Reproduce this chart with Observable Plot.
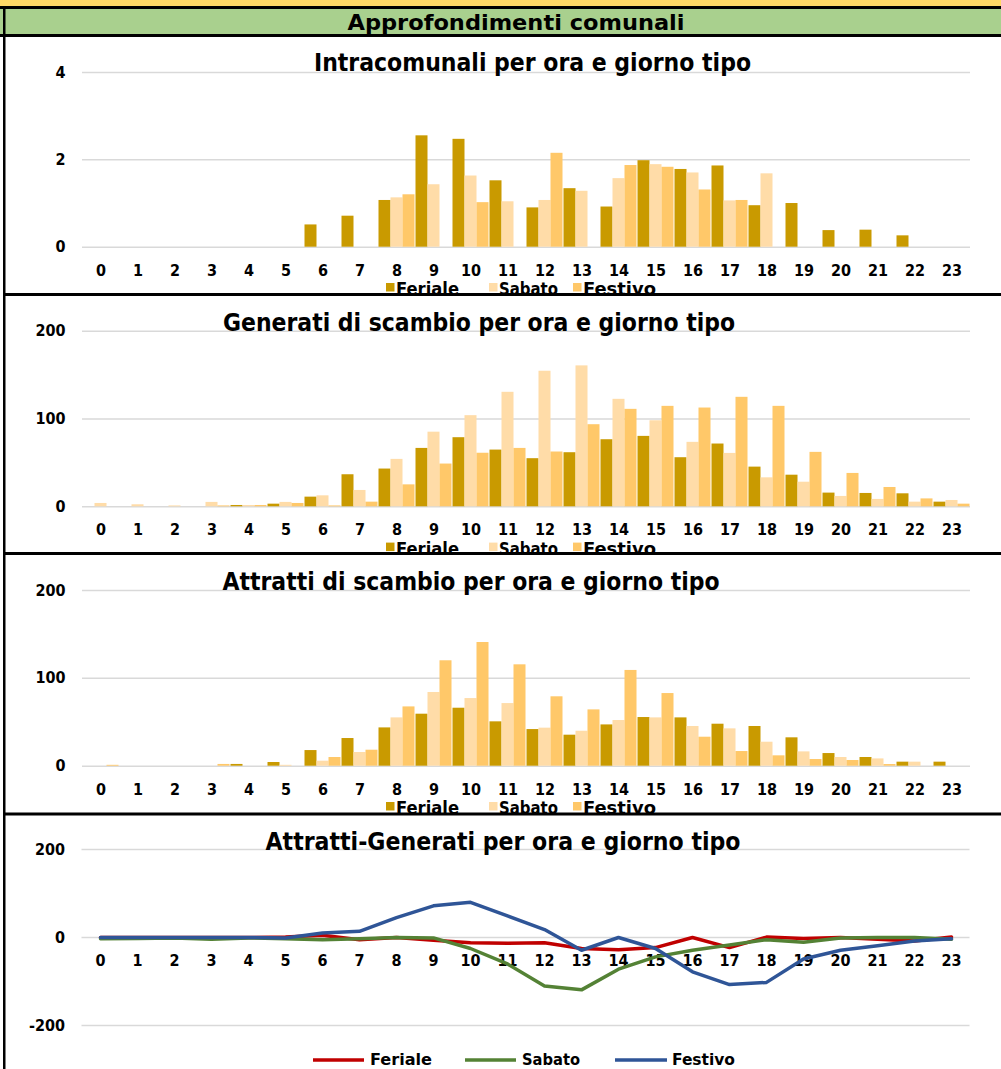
<!DOCTYPE html>
<html>
<head>
<meta charset="utf-8">
<script src="https://cdn.jsdelivr.net/npm/d3@7"></script>
<script src="https://cdn.jsdelivr.net/npm/@observablehq/plot@0.6"></script>
<style>
html, body { margin:0; padding:0; background:#fff; overflow:hidden; }
#page { position:relative; width:1001px; height:1069px; overflow:hidden; background:#fff; }
</style>
</head>
<body>
<div id="page"></div>
<script>
// ---------------- DATA ----------------
const hours = [0,1,2,3,4,5,6,7,8,9,10,11,12,13,14,15,16,17,18,19,20,21,22,23];
const seriesNames = ["Feriale","Sabato","Festivo"];

const headerTitle = "Approfondimenti comunali";
const panelTitles = [
  "Intracomunali per ora e giorno tipo",
  "Generati di scambio per ora e giorno tipo",
  "Attratti di scambio per ora e giorno tipo",
  "Attratti-Generati per ora e giorno tipo"
];

// Intracomunali
const intraFeriale = [0,0,0,0,0,0,0.51,0.71,1.07,2.55,2.47,1.52,0.90,1.34,0.92,1.98,1.78,1.86,0.95,1.00,0.38,0.39,0.26,0];
const intraSabato  = [0,0,0,0,0,0,0,0,1.13,1.43,1.63,1.04,1.07,1.28,1.57,1.89,1.70,1.06,1.68,0,0,0,0,0];
const intraFestivo = [0,0,0,0,0,0,0,0,1.20,0,1.02,0,2.15,0,1.87,1.83,1.31,1.07,0,0,0,0,0,0];
const intraTicks = [0,2,4];

// Generati di scambio
const genFeriale = [0,0,0,0,1.5,3,11,36.5,43,66.5,78.7,64.6,54.8,61.6,76.4,80.2,55.9,71.5,45.2,36,15.6,15.2,14.8,5.3];
const genSabato  = [3.8,2.3,1,5,1.5,5,12.5,18.6,54,85,103.8,130.4,154.4,160.5,122.4,98,73.4,60.8,33,28,11.8,8.4,5.3,7.2];
const genFestivo = [0,0,0,1,1.5,3.8,1,5.3,25,48.7,61,66.5,62.4,93.5,111,114.4,112.5,124.7,114.4,62,38,22,9,3];
const scambioTicks = [0,100,200];

// Attratti di scambio
const attFeriale = [0,0,0,0,2,4.2,17.8,31.5,43.6,59.2,66,50.5,41.7,35.3,47,55.4,55,47.8,45.2,32.3,14.4,9.9,4.6,4.6];
const attSabato  = [0,0,0,0,0,1,5.7,15.6,55,83.9,77,71.3,43.3,39.8,52,55,45.2,42.5,27.3,16.3,9.9,8.3,4.6,0];
const attFestivo = [1,0,0,2,0,0,9.9,18.2,67.5,120,140.8,115.4,79,64.1,109,82.7,33,16.7,11.8,7.6,6.5,1.9,0,0];

// Attratti - Generati
const netFeriale = [0,0,0,0,0,1,5,-5,0,-6,-12,-13,-12,-25,-28,-23,0,-23,1,-2,0,-4,-8,1];
const netSabato  = [-3,-2,-1,-4,-1,-3,-5,-3,0,-1,-25,-60,-110,-119,-72,-44,-29,-17,-5,-11,-1,0,0,-4];
const netFestivo = [0,0,0,0,0,-1,10,14,45,72,80,49,18,-29,0,-25,-78,-107,-102,-49,-29,-19,-8,-3];
const netTicks = [-200,0,200];

// ---------------- STYLE ----------------
const barColors  = ["#C99A00","#FFDCA8","#FFC869"];
const lineColors = ["#C00000","#548235","#2F5597"];
const FONT = '"DejaVu Sans Condensed", "DejaVu Sans", sans-serif';
const gridColor = "#d9d9d9";
const fmt = d => String(d);

const page = document.getElementById("page");

function toLong(arrays) {
  return hours.flatMap((h, i) => seriesNames.map((s, j) => ({hour: h, series: s, value: arrays[j][i]})));
}
function place(node, top) {
  node.style.position = "absolute";
  node.style.left = "0px";
  node.style.top = top + "px";
  page.appendChild(node);
}
const baseStyle = {fontFamily: FONT, fontSize: "16px", fontWeight: "bold", color: "#000", background: "transparent", overflow: "visible"};

function barChart(arrays, yMax, yTicks, L) {
  return Plot.plot({
    width: 1001, height: L.height,
    marginLeft: 81.5, marginRight: 31.5, marginTop: L.mt, marginBottom: L.mb,
    style: baseStyle,
    fx: {domain: hours, padding: 0, label: null, axis: "bottom", tickSize: 0, tickPadding: 17, tickFormat: fmt},
    x: {domain: seriesNames, padding: 0, axis: null},
    y: {domain: [0, yMax], ticks: yTicks, tickSize: 0, tickPadding: 17, label: null, tickFormat: fmt},
    color: {domain: seriesNames, range: barColors},
    marks: [
      Plot.ruleY(yTicks, {stroke: gridColor, strokeWidth: 1.5}),
      Plot.barY(toLong(arrays), {fx: "hour", x: "series", y: "value", fill: "series"})
    ]
  });
}

const layouts = [
  {top: 37,  height: 256, mt: 35,   mb: 46.3},
  {top: 296, height: 256, mt: 34.7, mb: 45.7},
  {top: 555, height: 257, mt: 35,   mb: 46.3},
  {top: 815, height: 254, mt: 34,   mb: 44}
];

place(barChart([intraFeriale, intraSabato, intraFestivo], 4, intraTicks, layouts[0]), layouts[0].top);
place(barChart([genFeriale, genSabato, genFestivo], 200, scambioTicks, layouts[1]), layouts[1].top);
place(barChart([attFeriale, attSabato, attFestivo], 200, scambioTicks, layouts[2]), layouts[2].top);

// line chart
const netArrays = [netFeriale, netSabato, netFestivo];
const L4 = layouts[3];
const lineChart = Plot.plot({
  width: 1001, height: L4.height,
  marginLeft: 81.5, marginRight: 31.5, marginTop: L4.mt, marginBottom: L4.mb,
  style: baseStyle,
  x: {type: "point", domain: hours, padding: 0.5, axis: null},
  y: {domain: [-200, 200], ticks: netTicks, tickSize: 0, tickPadding: 17, label: null, tickFormat: fmt},
  marks: [
    Plot.ruleY(netTicks, {stroke: gridColor, strokeWidth: 1.5}),
    Plot.text(hours, {x: d => d, y: () => 0, text: d => String(d), lineAnchor: "top", dy: 17, fontWeight: "bold", fontSize: 16, fill: "#000"}),
    ...netArrays.map((arr, j) => Plot.line(hours.map((h, i) => ({hour: h, value: arr[i]})),
      {x: "hour", y: "value", stroke: lineColors[j], strokeWidth: 3.5, strokeLinejoin: "round", strokeLinecap: "round"}))
  ]
});
place(lineChart, L4.top);

// ---------------- OVERLAY (frame, titles, legends) ----------------
const ov = d3.create("svg").attr("width", 1001).attr("height", 1069)
  .style("position", "absolute").style("left", "0px").style("top", "0px").style("pointer-events", "none");

ov.append("rect").attr("x", 0).attr("y", 0).attr("width", 1001).attr("height", 6).attr("fill", "#FFD966");
ov.append("rect").attr("x", 0).attr("y", 6).attr("width", 1001).attr("height", 3).attr("fill", "#000");
ov.append("rect").attr("x", 0).attr("y", 9).attr("width", 1001).attr("height", 25).attr("fill", "#A9D08E");
ov.append("text").attr("x", 516).attr("y", 30).attr("text-anchor", "middle")
  .attr("font-family", '"DejaVu Sans", sans-serif').attr("font-weight", "bold").attr("font-size", 22)
  .attr("textLength", 337).attr("lengthAdjust", "spacingAndGlyphs").text(headerTitle);

const titleCfg = [
  {cx: 532.5, y: 71,    w: 437},
  {cx: 479,   y: 331,   w: 512},
  {cx: 471,   y: 589.5, w: 497},
  {cx: 503,   y: 850,   w: 475}
];
panelTitles.forEach((t, i) => {
  ov.append("text").attr("x", titleCfg[i].cx).attr("y", titleCfg[i].y).attr("text-anchor", "middle")
    .attr("font-family", FONT).attr("font-weight", "bold").attr("font-size", 24).attr("fill", "#000")
    .attr("textLength", titleCfg[i].w).attr("lengthAdjust", "spacingAndGlyphs").text(t);
});

// bar legends
const legSwatchX = [386, 489, 573];
const legTextX = [396, 499, 583];
const legTextW = [63, 59, 73];
[246.7, 506.3, 765.7].forEach(zeroY => {
  seriesNames.forEach((s, j) => {
    ov.append("rect").attr("x", legSwatchX[j]).attr("y", zeroY + 36.3).attr("width", 8.5).attr("height", 8.5).attr("fill", barColors[j]);
    ov.append("text").attr("x", legTextX[j]).attr("y", zeroY + 48.5)
      .attr("font-family", FONT).attr("font-weight", "bold").attr("font-size", 17).attr("fill", "#000")
      .attr("textLength", legTextW[j]).attr("lengthAdjust", "spacingAndGlyphs").text(s);
  });
});
// line legend
const lineLegX = [[313, 364, 370], [465, 516, 522], [615, 667, 672]];
const lineLegW = [62, 58, 63];
seriesNames.forEach((s, j) => {
  ov.append("line").attr("x1", lineLegX[j][0]).attr("x2", lineLegX[j][1]).attr("y1", 1060).attr("y2", 1060)
    .attr("stroke", lineColors[j]).attr("stroke-width", 3.5);
  ov.append("text").attr("x", lineLegX[j][2]).attr("y", 1065)
    .attr("font-family", FONT).attr("font-weight", "bold").attr("font-size", 16).attr("fill", "#000")
    .attr("textLength", lineLegW[j]).attr("lengthAdjust", "spacingAndGlyphs").text(s);
});

// frame lines
ov.append("rect").attr("x", 0).attr("y", 34).attr("width", 1001).attr("height", 3).attr("fill", "#000");
[293, 552, 812.5].forEach(y => ov.append("rect").attr("x", 3).attr("y", y).attr("width", 998).attr("height", 3).attr("fill", "#000"));
ov.append("rect").attr("x", 3).attr("y", 6).attr("width", 2.5).attr("height", 1063).attr("fill", "#000");

page.appendChild(ov.node());
</script>
</body>
</html>
